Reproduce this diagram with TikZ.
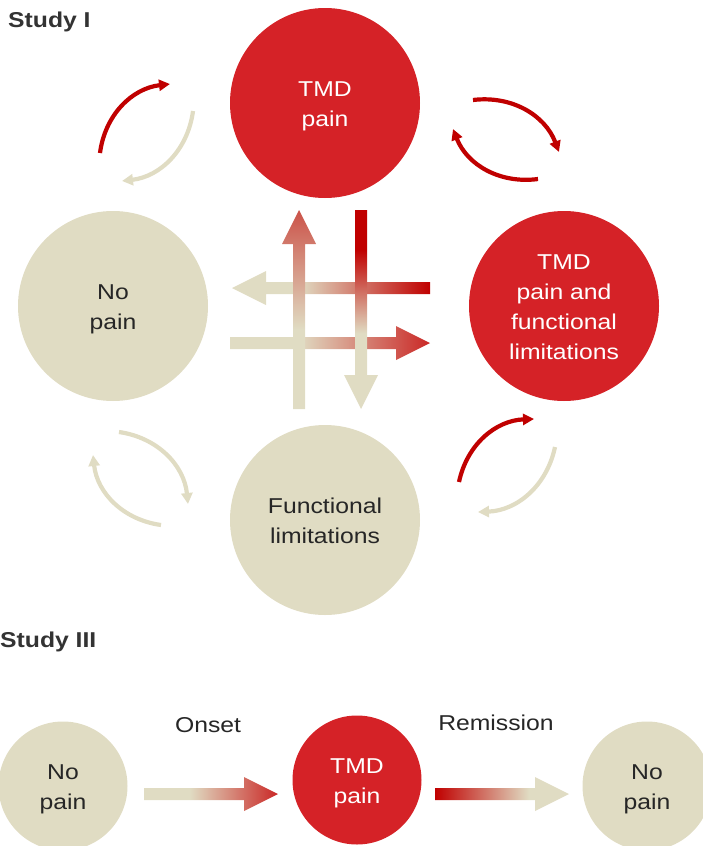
\documentclass[tikz,border=0pt]{standalone}
\usepackage{fontspec}
\setmainfont{Liberation Sans}[FakeStretch=1.15]
\usetikzlibrary{arrows.meta, calc}

\definecolor{tmdred}{RGB}{213,34,39}
\definecolor{tmdbeige}{RGB}{224,220,195}
\definecolor{darkred}{RGB}{192,0,0}
\definecolor{midred}{RGB}{202,40,38}
\definecolor{softred}{RGB}{203,82,72}
\definecolor{txtdark}{RGB}{38,38,38}
\definecolor{headgray}{RGB}{51,51,51}

% gradients for the broad arrows (25bp..75bp spans the arrow)
\pgfdeclarehorizontalshading{toright}{100bp}{color(0bp)=(tmdbeige); color(42bp)=(tmdbeige); color(75bp)=(midred); color(100bp)=(midred)}
\pgfdeclarehorizontalshading{toleft}{100bp}{color(0bp)=(tmdbeige); color(42bp)=(tmdbeige); color(75bp)=(darkred); color(100bp)=(darkred)}
\pgfdeclareverticalshading{goup}{100bp}{color(0bp)=(tmdbeige); color(45bp)=(tmdbeige); color(75bp)=(softred); color(100bp)=(softred)}
\pgfdeclareverticalshading{godown}{100bp}{color(0bp)=(tmdbeige); color(44bp)=(tmdbeige); color(65bp)=(darkred); color(100bp)=(darkred)}
\pgfdeclarehorizontalshading{fadeout}{100bp}{color(0bp)=(darkred); color(25bp)=(darkred); color(60bp)=(tmdbeige); color(100bp)=(tmdbeige)}

% broad arrow from #1 to #2, filled with shading #3
\newcommand{\fatarrow}[3]{%
  \coordinate (hb) at ($(#2)!34pt!(#1)$);
  \shade[shading=#3] ($(#1)!6pt!90:(#2)$) -- ($(hb)!6pt!90:(#2)$) -- ($(hb)!17pt!90:(#2)$)
    -- (#2) -- ($(hb)!17pt!-90:(#2)$) -- ($(hb)!6pt!-90:(#2)$) -- ($(#1)!6pt!-90:(#2)$) -- cycle;
}
% stacked lines, set a little lower in the circle
\newcommand{\lines}[1]{\raisebox{0pt}[\dimexpr\height+5pt\relax][\depth]{\begin{tabular}{@{}c@{}}#1\end{tabular}}}

\begin{document}
\begin{tikzpicture}[
  x=1pt, y=1pt,
  font=\fontsize{21.5}{30}\selectfont,
  state/.style={circle, minimum size=190pt, inner sep=0pt},
  redstate/.style={state, fill=tmdred, text=white},
  calmstate/.style={state, fill=tmdbeige, text=txtdark},
  small/.style={minimum size=129pt},
  head/.style={font=\fontsize{21.5}{30}\selectfont\bfseries, text=headgray, inner sep=0pt},
  lbl/.style={text=txtdark, inner sep=0pt},
  turn/.style={line width=4.2pt, -{Triangle[length=11pt, width=11pt]}}
]
\useasboundingbox (0,0) rectangle (703,-846);
\clip (0,0) rectangle (703,-846);

\node[head, anchor=base west] (s1) at (8,-27) {Study I};
\node[redstate] (tmd) at (325,-103) {\lines{TMD\\pain}};
\node[redstate] (both) at (564,-306) {\lines{TMD\\pain and\\functional\\limitations}};
\node[calmstate] (nopain) at (113,-306) {\lines{No\\pain}};
\node[calmstate] (func) at (325,-520) {\lines{Functional\\limitations}};

\coordinate (l-s) at (430,-288); \coordinate (l-t) at (232,-288);
\coordinate (r-s) at (230,-343); \coordinate (r-t) at (430,-343);
\coordinate (u-s) at (299,-409); \coordinate (u-t) at (299,-210);
\coordinate (d-s) at (361,-210); \coordinate (d-t) at (361,-409);
\fatarrow{l-s}{l-t}{toleft}
\fatarrow{r-s}{r-t}{toright}
\fatarrow{u-s}{u-t}{goup}
\fatarrow{d-s}{d-t}{godown}

% staying in the same state
\coordinate (a1) at (100,-153); \coordinate (a2) at (170,-84);
\coordinate (a3) at (193,-111); \coordinate (a4) at (122,-181);
\coordinate (b1) at (473,-100); \coordinate (b2) at (559,-152);
\coordinate (b3) at (538,-179); \coordinate (b4) at (453,-129);
\coordinate (c1) at (119,-432); \coordinate (c2) at (188,-504);
\coordinate (c3) at (161,-525); \coordinate (c4) at (93,-455);
\coordinate (e1) at (459,-482); \coordinate (e2) at (534,-419);
\coordinate (e3) at (555,-447); \coordinate (e4) at (478,-512);
\draw[turn, darkred] (a1) to[bend left=38] (a2);
\draw[turn, tmdbeige] (a3) to[bend left=38] (a4);
\draw[turn, darkred] (b1) to[bend left=38] (b2);
\draw[turn, darkred] (b3) to[bend left=38] (b4);
\draw[turn, tmdbeige] (c1) to[bend left=38] (c2);
\draw[turn, tmdbeige] (c3) to[bend left=38] (c4);
\draw[turn, darkred] (e1) to[bend left=38] (e2);
\draw[turn, tmdbeige] (e3) to[bend left=38] (e4);

\node[head, anchor=base west] (s3) at (0,-647) {Study III};
\node[calmstate, small] (start) at (63,-786) {\lines{No\\pain}};
\node[redstate, small] (onsetpain) at (357,-780) {\lines{TMD\\pain}};
\node[calmstate, small] (after) at (647,-786) {\lines{No\\pain}};
\node[lbl, anchor=base] (onset) at (208,-732) {Onset};
\node[lbl, anchor=base] (remission) at (496,-730) {Remission};
\coordinate (o-s) at (144,-794); \coordinate (o-t) at (278,-794);
\coordinate (m-s) at (435,-794); \coordinate (m-t) at (569,-794);
\fatarrow{o-s}{o-t}{toright}
\fatarrow{m-s}{m-t}{fadeout}
\end{tikzpicture}
\end{document}
